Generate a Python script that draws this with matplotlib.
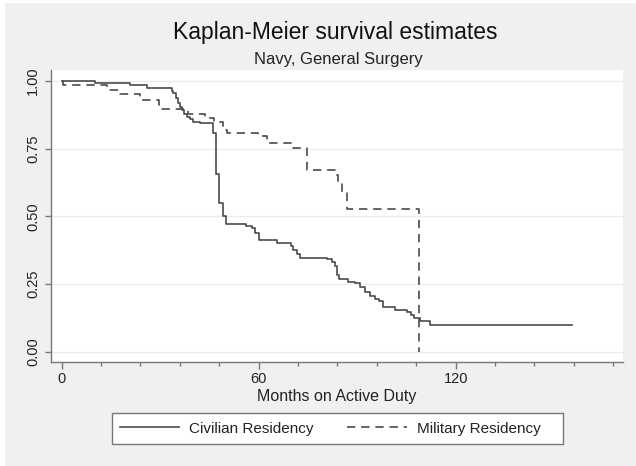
import matplotlib
matplotlib.use('Agg')
import matplotlib.pyplot as plt
from matplotlib.patches import Rectangle

plt.rcParams['font.family'] = ['Liberation Sans', 'DejaVu Sans']

# Kaplan-Meier step estimates (months, survival)
civ_months = [0, 10.1, 20.8, 25.9, 33.5, 34.0, 34.7, 35.5, 36.0, 36.5, 37.2,
              38.1, 39.1, 40.1, 42.1, 46.0, 47.0, 47.9, 49.0, 50.0, 56.1,
              57.9, 58.9, 60.2, 65.5, 69.7, 70.6, 71.6, 72.6, 80.7, 82.2,
              83.2, 83.8, 84.6, 87.3, 89.3, 90.9, 92.5, 93.9, 95.4, 96.5,
              97.8, 101.5, 105.2, 106.3, 107.4, 109.1, 112.2, 155.3]
civ_surv = [1.0, 0.991, 0.984, 0.974, 0.964, 0.955, 0.936, 0.917, 0.905,
            0.893, 0.878, 0.868, 0.859, 0.850, 0.844, 0.809, 0.656, 0.549,
            0.502, 0.472, 0.466, 0.456, 0.438, 0.411, 0.403, 0.392, 0.376,
            0.362, 0.346, 0.342, 0.330, 0.317, 0.284, 0.268, 0.259, 0.253,
            0.239, 0.222, 0.204, 0.194, 0.186, 0.167, 0.155, 0.145, 0.135,
            0.124, 0.114, 0.100, 0.100]

mil_months = [0, 0.5, 13.7, 17.8, 23.9, 29.7, 38.5, 43.5, 46.4, 49.2, 50.3,
              59.9, 62.4, 70.6, 74.6, 83.2, 84.3, 85.3, 86.8, 108.9]
mil_surv = [1.0, 0.984, 0.967, 0.951, 0.930, 0.895, 0.878, 0.864, 0.850,
            0.819, 0.809, 0.795, 0.770, 0.752, 0.672, 0.653, 0.623, 0.586,
            0.528, 0.0]

series_labels = ['Civilian Residency', 'Military Residency']
x_major = [0, 60, 120]
x_minor = list(range(0, 169, 12))
y_ticks = [0.0, 0.25, 0.5, 0.75, 1.0]
y_ticklabels = ['0.00', '0.25', '0.50', '0.75', '1.00']

W, H = 636, 466
bg = '#eff1f0'
ink = '#4a4a4a'

fig = plt.figure(figsize=(W / 100, H / 100), dpi=100)
fig.patch.set_facecolor('white')
fig.patches.append(Rectangle((5 / W, 0), 1, 1 - 3 / H, transform=fig.transFigure,
                             facecolor=bg, edgecolor='none', zorder=-10))
# legend box (drawn separately so the padding can be uneven)
fig.patches.append(Rectangle((112 / W, 1 - 444 / H), 451 / W, 31 / H,
                             transform=fig.transFigure, facecolor='white',
                             edgecolor='#777777', lw=1.0, zorder=-5))

ax = fig.add_axes([51 / W, 1 - 362 / H, 572 / W, 292 / H])
ax.set_facecolor('white')

ax.step(civ_months, civ_surv, where='post', color=ink, lw=1.2,
        label=series_labels[0])
ax.step(mil_months, mil_surv, where='post', color=ink, lw=1.2,
        linestyle=(0, (5, 3.5)), label=series_labels[1])

ax.set_xlim(-3.26, 170.97)
ax.set_ylim(-0.038, 1.0406)

ax.set_xticks(x_major)
ax.set_xticks([m for m in x_minor if m not in x_major], minor=True)
ax.set_yticks(y_ticks)
ax.set_yticklabels(y_ticklabels, rotation=90, va='center')

for s in ['top', 'right']:
    ax.spines[s].set_visible(False)
for s in ['left', 'bottom']:
    ax.spines[s].set_color('#777777')
    ax.spines[s].set_linewidth(1.0)

ax.tick_params(axis='x', which='major', length=5, width=1, color='#777777',
               labelsize=10.5, labelcolor='#222222', pad=2.5)
ax.tick_params(axis='x', which='minor', length=3, width=1, color='#777777')
ax.tick_params(axis='y', which='major', length=4, width=1, color='#777777',
               labelsize=10.5, labelcolor='#222222', pad=4)

ax.grid(axis='y', color='#ececec', lw=1.0)
ax.set_axisbelow(True)

fig.text(335 / W, 1 - 32 / H, 'Kaplan-Meier survival estimates', ha='center',
         va='center', fontsize=16.5, color='#111111')
fig.text(338 / W, 1 - 60 / H, 'Navy, General Surgery', ha='center',
         va='center', fontsize=12, color='#222222')
fig.text(337 / W, 1 - 396 / H, 'Months on Active Duty', ha='center',
         va='center', fontsize=11.5, color='#222222')

leg = ax.legend(loc='center left', ncol=2,
                bbox_to_anchor=(112 / W, 1 - 428.5 / H),
                bbox_transform=fig.transFigure, fontsize=11,
                handlelength=3.9, handletextpad=0.65, columnspacing=2.2,
                frameon=False, borderaxespad=0, borderpad=0.5)
for t in leg.get_texts():
    t.set_color('#222222')

fig.savefig('out.png', dpi=100, facecolor=fig.get_facecolor())
